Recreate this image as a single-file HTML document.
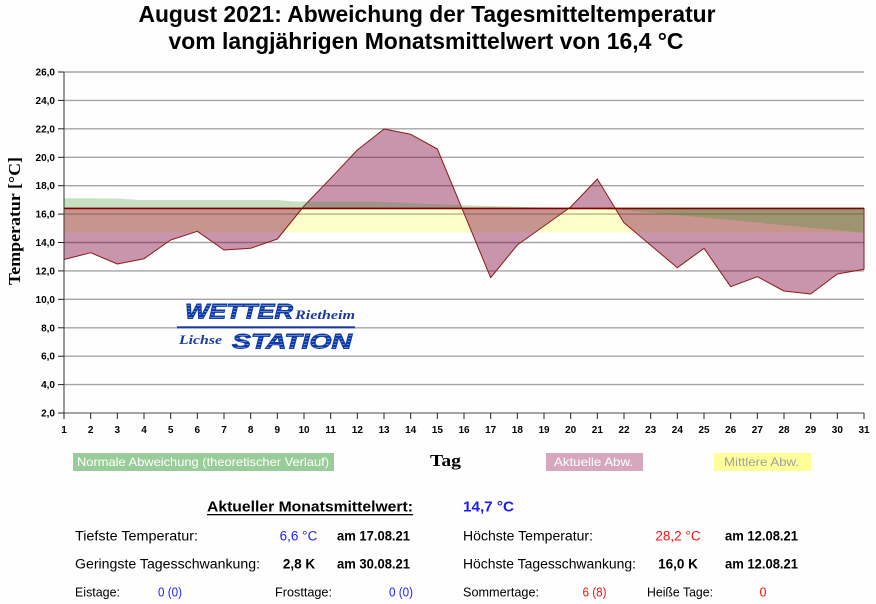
<!DOCTYPE html>
<html><head><meta charset="utf-8"><style>
html,body{margin:0;padding:0;background:#fff;}
svg{display:block;}
text{font-family:"Liberation Sans",Arial,sans-serif;}
.tk{font-size:10px;font-weight:bold;fill:#000;}
.serif{font-family:"Liberation Serif","Times New Roman",serif;}
</style></head><body>
<svg width="876" height="604" viewBox="0 0 876 604" xmlns="http://www.w3.org/2000/svg">
<defs>
<pattern id="st" width="6" height="3" patternUnits="userSpaceOnUse">
<rect width="6" height="3" fill="#0d3aa6"/>
<rect y="2" width="6" height="0.8" fill="#7f9be0"/>
</pattern>
</defs>
<rect width="876" height="604" fill="#fefefe"/>

<!-- Title -->
<text x="427" y="22" font-size="23" font-weight="bold" text-anchor="middle" textLength="577" lengthAdjust="spacingAndGlyphs">August 2021: Abweichung der Tagesmitteltemperatur</text>
<text x="426" y="49" font-size="23" font-weight="bold" text-anchor="middle" textLength="515" lengthAdjust="spacingAndGlyphs">vom langjährigen Monatsmittelwert von 16,4 °C</text>

<!-- gridlines -->
<g stroke="#a4a4a4" stroke-width="1.4">
<line x1="64" y1="72" x2="864" y2="72"/>
<line x1="64" y1="100.4" x2="864" y2="100.4"/>
<line x1="64" y1="128.8" x2="864" y2="128.8"/>
<line x1="64" y1="157.3" x2="864" y2="157.3"/>
<line x1="64" y1="185.7" x2="864" y2="185.7"/>
<line x1="64" y1="214.1" x2="864" y2="214.1"/>
<line x1="64" y1="242.5" x2="864" y2="242.5"/>
<line x1="64" y1="270.9" x2="864" y2="270.9"/>
<line x1="64" y1="299.3" x2="864" y2="299.3"/>
<line x1="64" y1="327.8" x2="864" y2="327.8"/>
<line x1="64" y1="356.2" x2="864" y2="356.2"/>
<line x1="64" y1="384.6" x2="864" y2="384.6"/>
</g>

<!-- yellow band -->
<rect x="64" y="208.4" width="800" height="24.2" fill="rgba(255,255,0,0.2)"/>

<!-- purple actual deviation -->
<path d="M64,208.4 L64,259.5 L90.67,252.7 L117.33,264 L144,258.7 L170.67,240 L197.33,231.3 L224,250 L250.67,248.3 L277.33,239 L304,206 L330.67,178.3 L357.33,150 L384,129 L410.67,134.3 L437.33,149 L464,213.3 L490.67,277.7 L517.33,245 L544,226 L570.67,207 L597.33,179 L624,222.7 L650.67,245.3 L677.33,267.7 L704,248.3 L730.67,286.7 L757.33,276.7 L784,291 L810.67,294 L837.33,274 L864,269.3 L864,208.4 Z" fill="rgba(123,0,55,0.41)" stroke="#8b1a1a" stroke-width="1" stroke-linejoin="round"/>

<!-- green theoretical -->
<path d="M64,198.3 L117,198.5 L140,200 L277,200 L293,201.5 L380,201.8 L430,204 L513,206.7 L563,208.3 L623,210 L864,232.7 L864,208.4 L64,208.4 Z" fill="rgba(53,149,39,0.28)"/>

<!-- 16.4 line -->
<line x1="64" y1="208.4" x2="864" y2="208.4" stroke="#800000" stroke-width="1.6"/>

<!-- axes -->
<line x1="64" y1="413" x2="864" y2="413" stroke="#a4a4a4" stroke-width="2"/>
<line x1="64" y1="72" x2="64" y2="413" stroke="#333" stroke-width="1"/>
<g stroke="#222" stroke-width="1">
<line x1="58" y1="72" x2="64" y2="72"/><line x1="58" y1="100.4" x2="64" y2="100.4"/><line x1="58" y1="128.8" x2="64" y2="128.8"/><line x1="58" y1="157.3" x2="64" y2="157.3"/><line x1="58" y1="185.7" x2="64" y2="185.7"/><line x1="58" y1="214.1" x2="64" y2="214.1"/><line x1="58" y1="242.5" x2="64" y2="242.5"/><line x1="58" y1="270.9" x2="64" y2="270.9"/><line x1="58" y1="299.3" x2="64" y2="299.3"/><line x1="58" y1="327.8" x2="64" y2="327.8"/><line x1="58" y1="356.2" x2="64" y2="356.2"/><line x1="58" y1="384.6" x2="64" y2="384.6"/><line x1="58" y1="413" x2="64" y2="413"/>
<line x1="64" y1="413" x2="64" y2="419"/><line x1="90.67" y1="413" x2="90.67" y2="419"/><line x1="117.33" y1="413" x2="117.33" y2="419"/><line x1="144" y1="413" x2="144" y2="419"/><line x1="170.67" y1="413" x2="170.67" y2="419"/><line x1="197.33" y1="413" x2="197.33" y2="419"/><line x1="224" y1="413" x2="224" y2="419"/><line x1="250.67" y1="413" x2="250.67" y2="419"/><line x1="277.33" y1="413" x2="277.33" y2="419"/><line x1="304" y1="413" x2="304" y2="419"/><line x1="330.67" y1="413" x2="330.67" y2="419"/><line x1="357.33" y1="413" x2="357.33" y2="419"/><line x1="384" y1="413" x2="384" y2="419"/><line x1="410.67" y1="413" x2="410.67" y2="419"/><line x1="437.33" y1="413" x2="437.33" y2="419"/><line x1="464" y1="413" x2="464" y2="419"/><line x1="490.67" y1="413" x2="490.67" y2="419"/><line x1="517.33" y1="413" x2="517.33" y2="419"/><line x1="544" y1="413" x2="544" y2="419"/><line x1="570.67" y1="413" x2="570.67" y2="419"/><line x1="597.33" y1="413" x2="597.33" y2="419"/><line x1="624" y1="413" x2="624" y2="419"/><line x1="650.67" y1="413" x2="650.67" y2="419"/><line x1="677.33" y1="413" x2="677.33" y2="419"/><line x1="704" y1="413" x2="704" y2="419"/><line x1="730.67" y1="413" x2="730.67" y2="419"/><line x1="757.33" y1="413" x2="757.33" y2="419"/><line x1="784" y1="413" x2="784" y2="419"/><line x1="810.67" y1="413" x2="810.67" y2="419"/><line x1="837.33" y1="413" x2="837.33" y2="419"/><line x1="864" y1="413" x2="864" y2="419"/>
</g>

<!-- y tick labels -->
<g class="tk" text-anchor="end">
<text x="55" y="75.5">26,0</text><text x="55" y="103.9">24,0</text><text x="55" y="132.3">22,0</text><text x="55" y="160.8">20,0</text><text x="55" y="189.2">18,0</text><text x="55" y="217.6">16,0</text><text x="55" y="246">14,0</text><text x="55" y="274.4">12,0</text><text x="55" y="302.8">10,0</text><text x="55" y="331.3">8,0</text><text x="55" y="359.7">6,0</text><text x="55" y="388.1">4,0</text><text x="55" y="416.5">2,0</text>
</g>
<!-- x tick labels -->
<g class="tk" text-anchor="middle">
<text x="64" y="433">1</text><text x="90.67" y="433">2</text><text x="117.33" y="433">3</text><text x="144" y="433">4</text><text x="170.67" y="433">5</text><text x="197.33" y="433">6</text><text x="224" y="433">7</text><text x="250.67" y="433">8</text><text x="277.33" y="433">9</text><text x="304" y="433">10</text><text x="330.67" y="433">11</text><text x="357.33" y="433">12</text><text x="384" y="433">13</text><text x="410.67" y="433">14</text><text x="437.33" y="433">15</text><text x="464" y="433">16</text><text x="490.67" y="433">17</text><text x="517.33" y="433">18</text><text x="544" y="433">19</text><text x="570.67" y="433">20</text><text x="597.33" y="433">21</text><text x="624" y="433">22</text><text x="650.67" y="433">23</text><text x="677.33" y="433">24</text><text x="704" y="433">25</text><text x="730.67" y="433">26</text><text x="757.33" y="433">27</text><text x="784" y="433">28</text><text x="810.67" y="433">29</text><text x="837.33" y="433">30</text><text x="864" y="433">31</text>
</g>

<!-- y axis title -->
<text class="serif" transform="translate(20,221) rotate(-90)" font-size="17" font-weight="bold" text-anchor="middle" textLength="128" lengthAdjust="spacingAndGlyphs">Temperatur [°C]</text>

<!-- logo -->
<text x="185" y="318.5" font-size="21" font-weight="bold" font-style="italic" fill="url(#st)" stroke="#0d3aa6" stroke-width="0.9" textLength="108" lengthAdjust="spacingAndGlyphs">WETTER</text>
<text class="serif" x="295" y="319" font-size="13" font-weight="bold" font-style="italic" fill="#1a3a9e" textLength="60" lengthAdjust="spacingAndGlyphs">Rietheim</text>
<rect x="177" y="326.3" width="178" height="2" fill="#1a3a9e"/>
<text class="serif" x="179" y="344" font-size="13" font-weight="bold" font-style="italic" fill="#1a3a9e" textLength="43" lengthAdjust="spacingAndGlyphs">Lichse</text>
<text x="232" y="348.5" font-size="21" font-weight="bold" font-style="italic" fill="url(#st)" stroke="#0d3aa6" stroke-width="0.9" textLength="120" lengthAdjust="spacingAndGlyphs">STATION</text>

<!-- legend -->
<rect x="73" y="453" width="261" height="18" fill="#99cc99"/>
<text x="77" y="466" font-size="12" fill="#fff" textLength="252" lengthAdjust="spacingAndGlyphs">Normale Abweichung (theoretischer Verlauf)</text>
<text class="serif" x="430" y="466" font-size="17" font-weight="bold" textLength="31" lengthAdjust="spacingAndGlyphs">Tag</text>
<rect x="546" y="453" width="97" height="18" fill="#d6a8c0"/>
<text x="554" y="466" font-size="12" fill="#fff" textLength="79" lengthAdjust="spacingAndGlyphs">Aktuelle Abw.</text>
<rect x="714" y="453" width="97" height="18" fill="#ffff99"/>
<text x="724" y="466" font-size="12" fill="#a0a0a0" textLength="75" lengthAdjust="spacingAndGlyphs">Mittlere Abw.</text>

<!-- statistics -->
<text x="207" y="511.7" font-size="15" font-weight="bold" textLength="206" lengthAdjust="spacingAndGlyphs">Aktueller Monatsmittelwert:</text>
<rect x="207" y="514" width="206" height="1.3" fill="#000"/>
<text x="463" y="511.7" font-size="15" font-weight="bold" fill="#1a1aff" textLength="51" lengthAdjust="spacingAndGlyphs">14,7 °C</text>

<g font-size="13.5">
<text x="75" y="540.7" textLength="123" lengthAdjust="spacingAndGlyphs">Tiefste Temperatur:</text>
<text x="298.5" y="540.7" fill="#2020ff" text-anchor="middle">6,6 °C</text>
<text x="337" y="540.7" font-weight="bold" textLength="73" lengthAdjust="spacingAndGlyphs">am 17.08.21</text>
<text x="463" y="540.7" textLength="130" lengthAdjust="spacingAndGlyphs">Höchste Temperatur:</text>
<text x="678" y="540.7" fill="#ff1010" text-anchor="middle">28,2 °C</text>
<text x="725" y="540.7" font-weight="bold" textLength="73" lengthAdjust="spacingAndGlyphs">am 12.08.21</text>

<text x="75" y="568.5" textLength="185" lengthAdjust="spacingAndGlyphs">Geringste Tagesschwankung:</text>
<text x="299" y="568.5" font-weight="bold" text-anchor="middle">2,8 K</text>
<text x="337" y="568.5" font-weight="bold" textLength="73" lengthAdjust="spacingAndGlyphs">am 30.08.21</text>
<text x="463" y="568.5" textLength="173" lengthAdjust="spacingAndGlyphs">Höchste Tagesschwankung:</text>
<text x="678" y="568.5" font-weight="bold" text-anchor="middle">16,0 K</text>
<text x="725" y="568.5" font-weight="bold" textLength="73" lengthAdjust="spacingAndGlyphs">am 12.08.21</text>
</g>

<g font-size="12.5">
<text x="75" y="596.7" textLength="45" lengthAdjust="spacingAndGlyphs">Eistage:</text>
<text x="158" y="596.7" fill="#2020ff" textLength="24" lengthAdjust="spacingAndGlyphs">0 (0)</text>
<text x="275" y="596.7" textLength="57" lengthAdjust="spacingAndGlyphs">Frosttage:</text>
<text x="389" y="596.7" fill="#2020ff" textLength="24" lengthAdjust="spacingAndGlyphs">0 (0)</text>
<text x="463" y="596.7" textLength="76" lengthAdjust="spacingAndGlyphs">Sommertage:</text>
<text x="582.5" y="596.7" fill="#ff1010" textLength="24" lengthAdjust="spacingAndGlyphs">6 (8)</text>
<text x="647" y="596.7" textLength="66" lengthAdjust="spacingAndGlyphs">Heiße Tage:</text>
<text x="759.5" y="596.7" fill="#ff1010">0</text>
</g>
</svg>
</body></html>
